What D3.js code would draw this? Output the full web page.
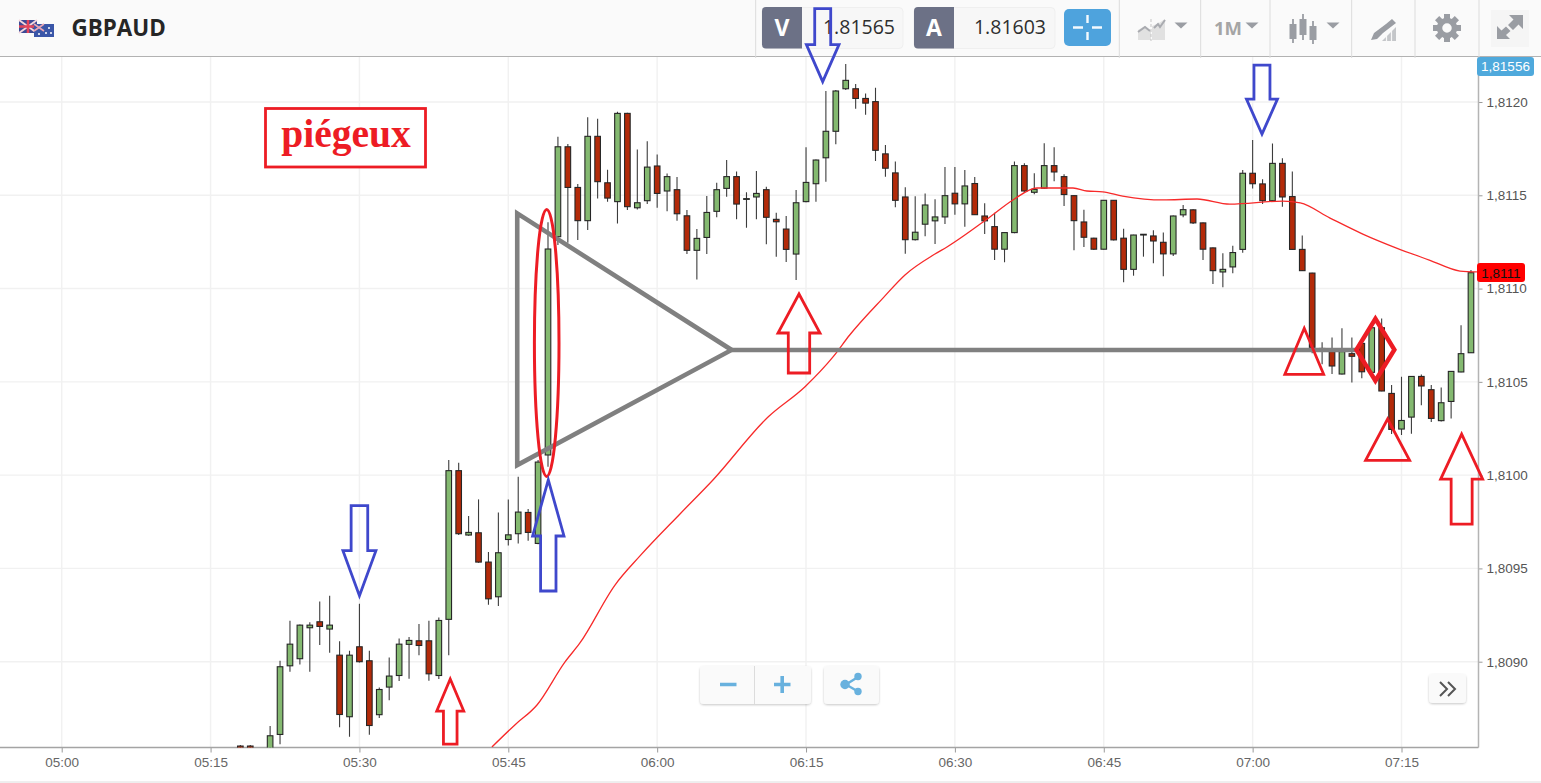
<!DOCTYPE html>
<html><head><meta charset="utf-8">
<script src="https://cdnjs.cloudflare.com/ajax/libs/d3/7.8.5/d3.min.js"></script>
<style>html,body{margin:0;padding:0;background:#fff;overflow:hidden}svg{display:block}</style>
</head><body><svg id="c" width="1541" height="783"></svg>
<script>
const symbol = "GBPAUD";
const bidPrice = "1.81565", askPrice = "1.81603";
const topLabel = "1,81556", lastLabel = "1,8111";
const annotationText = "piégeux";
const firstMinute = 18;
const xTickMinutes = [0,15,30,45,60,75,90,105,120,135];
const xTickLabels = ["05:00","05:15","05:30","05:45","06:00","06:15","06:30","06:45","07:00","07:15"];
const yTicks = [1.8090,1.8095,1.8100,1.8105,1.8110,1.8115,1.8120];

const opens = [1.808548,1.808548,1.808499,1.808499,1.808610,1.808978,1.809016,1.809182,1.809214,1.809175,1.809035,1.808705,1.809080,1.809005,1.808716,1.808864,1.808926,1.809093,1.809112,1.809112,1.808926,1.809227,1.810024,1.809679,1.809691,1.809534,1.809348,1.809655,1.809686,1.809800,1.809634,1.810108,1.811278,1.811760,1.811542,1.811364,1.811816,1.811567,1.811466,1.811939,1.811433,1.811471,1.811657,1.811523,1.811530,1.811390,1.811205,1.811274,1.811414,1.811537,1.811600,1.811478,1.811491,1.811530,1.811371,1.811319,1.811185,1.811466,1.811562,1.811701,1.811843,1.812071,1.812071,1.812019,1.812002,1.811722,1.811620,1.811491,1.811262,1.811345,1.811363,1.811384,1.811511,1.811454,1.811563,1.811389,1.811332,1.811211,1.811300,1.811659,1.811516,1.811538,1.811659,1.811600,1.811498,1.811357,1.811270,1.811211,1.811473,1.811270,1.811103,1.811287,1.811282,1.811248,1.811186,1.811395,1.811422,1.811352,1.811218,1.811089,1.811116,1.811210,1.811618,1.811561,1.811471,1.811671,1.811493,1.811210,1.811083,1.810667,1.810662,1.810542,1.810651,1.810706,1.810551,1.810790,1.810438,1.810247,1.810311,1.810529,1.810458,1.810292,1.810395,1.810553,1.810656];
const highs = [1.808553,1.808553,1.808510,1.808655,1.809005,1.809219,1.809200,1.809212,1.809323,1.809353,1.809110,1.809059,1.809311,1.809059,1.808862,1.809023,1.809125,1.809132,1.809202,1.809219,1.809237,1.810081,1.810066,1.809781,1.809870,1.809588,1.809800,1.809870,1.809991,1.809818,1.810081,1.811355,1.811814,1.811775,1.811560,1.811918,1.811910,1.811637,1.811948,1.811943,1.811746,1.811789,1.811719,1.811617,1.811598,1.811421,1.811319,1.811496,1.811567,1.811689,1.811628,1.811516,1.811630,1.811546,1.811407,1.811389,1.811528,1.811757,1.811692,1.812059,1.812064,1.812204,1.812096,1.812046,1.812077,1.811770,1.811681,1.811543,1.811495,1.811509,1.811479,1.811652,1.811652,1.811636,1.811598,1.811457,1.811407,1.811302,1.811681,1.811672,1.811618,1.811779,1.811757,1.811613,1.811500,1.811422,1.811273,1.811475,1.811475,1.811320,1.811289,1.811291,1.811312,1.811300,1.811391,1.811448,1.811425,1.811354,1.811220,1.811189,1.811229,1.811636,1.811796,1.811586,1.811777,1.811698,1.811628,1.811285,1.811085,1.810712,1.810738,1.810787,1.810738,1.810715,1.810796,1.810840,1.810483,1.810528,1.810531,1.810540,1.810483,1.810470,1.810558,1.810803,1.811099];
const lows = [1.808508,1.808508,1.808430,1.808472,1.808558,1.808946,1.808985,1.808946,1.809089,1.809048,1.808648,1.808598,1.808996,1.808608,1.808698,1.808794,1.808896,1.808909,1.809035,1.808898,1.808907,1.809035,1.809679,1.809675,1.809530,1.809305,1.809298,1.809623,1.809634,1.809648,1.809630,1.810045,1.811233,1.811246,1.811260,1.811314,1.811483,1.811466,1.811349,1.811421,1.811424,1.811453,1.811433,1.811415,1.811364,1.811185,1.811049,1.811185,1.811382,1.811492,1.811371,1.811326,1.811371,1.811237,1.811171,1.811142,1.811046,1.811462,1.811466,1.811573,1.811773,1.812064,1.811964,1.811932,1.811684,1.811600,1.811436,1.811187,1.811257,1.811280,1.811239,1.811346,1.811396,1.811332,1.811395,1.811293,1.811153,1.811141,1.811296,1.811514,1.811506,1.811534,1.811575,1.811443,1.811205,1.811223,1.811207,1.811209,1.811257,1.811034,1.811069,1.811171,1.811136,1.811066,1.811175,1.811382,1.811346,1.811153,1.811025,1.811007,1.811082,1.811192,1.811537,1.811453,1.811469,1.811439,1.811208,1.811094,1.810653,1.810594,1.810542,1.810540,1.810497,1.810519,1.810545,1.810449,1.810220,1.810215,1.810222,1.810374,1.810285,1.810288,1.810304,1.810551,1.810654];
const closes = [1.808526,1.808526,1.808446,1.808603,1.808973,1.809094,1.809196,1.809196,1.809189,1.809196,1.808717,1.809035,1.809000,1.808658,1.808851,1.808923,1.809094,1.809114,1.809087,1.808935,1.809221,1.810024,1.809686,1.809693,1.809534,1.809337,1.809584,1.809680,1.809802,1.809693,1.810070,1.811212,1.811760,1.811542,1.811364,1.811816,1.811573,1.811485,1.811939,1.811439,1.811460,1.811651,1.811510,1.811600,1.811401,1.811205,1.811269,1.811408,1.811530,1.811600,1.811453,1.811482,1.811510,1.811382,1.811358,1.811210,1.811460,1.811569,1.811689,1.811843,1.812059,1.812116,1.812019,1.811994,1.811741,1.811645,1.811473,1.811262,1.811302,1.811448,1.811384,1.811498,1.811454,1.811550,1.811396,1.811363,1.811211,1.811300,1.811659,1.811523,1.811532,1.811659,1.811625,1.811504,1.811364,1.811275,1.811211,1.811473,1.811261,1.811103,1.811287,1.811291,1.811255,1.811186,1.811389,1.811423,1.811352,1.811211,1.811096,1.811103,1.811193,1.811618,1.811562,1.811471,1.811671,1.811491,1.811210,1.811096,1.810685,1.810679,1.810585,1.810662,1.810637,1.810554,1.810790,1.810451,1.810245,1.810293,1.810529,1.810478,1.810304,1.810388,1.810556,1.810651,1.811085];

const maMinutes = [43.35,45.66,47.89,50.7,52.2,55.75,58.27,62.3,65.62,71.2,74.9,77.74,79.4,82.75,84.97,87.99,89.2,93.53,95.85,98.27,101.9,103.3,104.9,106.9,110.96,114.4,117.7,123.05,124.8,127.8,131.1,134.5,137.8,140.9,142.6];
const maValues = [1.808543,1.808661,1.808768,1.808998,1.809099,1.809411,1.809567,1.809792,1.809974,1.810313,1.810474,1.810635,1.810751,1.810949,1.811073,1.811185,1.811223,1.811384,1.811475,1.811539,1.811539,1.811523,1.811518,1.811496,1.811475,1.811480,1.811453,1.811469,1.811459,1.811378,1.811292,1.811217,1.811153,1.811094,1.811089];

// Hand-drawn annotations, anchored in chart coordinates (minute after 05:00, price)
const arrowMinutes = [30.0,49.03,76.68,120.94,39.15,74.29,141.06];
const arrowPrices = [1.809354,1.809974,1.812109,1.811828,1.808907,1.810971,1.810220];
const arrowKinds = ["down","up","down","down","up","up","up"];
const arrowHues = ["blue","blue","blue","blue","red","red","red"];
const arrowSizes = ["a","b","c","d","e","f","g"];
const triangleMinutes = [125.2,133.6], trianglePrices = [1.810787,1.810301];
const wedgeMinutes = [45.9,67.5,45.9], wedgePrices = [1.811403,1.810671,1.810054];
const levelEndMinute = 130.6, levelPrice = 1.810671;
const ellipseMinute = 48.87, ellipsePrice = 1.810708;
const diamondMinute = 132.37, diamondPrice = 1.810672;

const svg = d3.select("#c");
const W = 1541, H = 783, plotR = 1478.5, plotT = 57, plotB = 747.5;
const x = d3.scaleLinear().domain([0,135]).range([61.7,1401.5]);
const y = d3.scaleLinear().domain([1.8090,1.8120]).range([661.7,102]);
const redC = "#ed1c24", blueC = "#3f48cc", grayC = "#808080";
const greenFill = "#84b970", redFill = "#b32a09";

svg.append("rect").attr("width",W).attr("height",H).attr("fill","#fff");
svg.append("defs").append("clipPath").attr("id","plot").append("rect")
  .attr("x",0).attr("y",plotT).attr("width",plotR).attr("height",plotB-plotT);

// grid
const grid = svg.append("g").attr("stroke","#f1f1f1").attr("stroke-width",1.4);
grid.selectAll("line.h").data(yTicks).join("line").attr("class","h")
  .attr("x1",0).attr("x2",plotR).attr("y1",d=>y(d)).attr("y2",d=>y(d));
grid.selectAll("line.v").data(xTickMinutes).join("line").attr("class","v")
  .attr("x1",d=>x(d)).attr("x2",d=>x(d)).attr("y1",plotT).attr("y2",plotB);

// axes
const axY = d3.axisRight(y).tickValues(yTicks).tickSize(4).tickPadding(4).tickFormat(d=>d.toFixed(4).replace(".",","));
const gy = svg.append("g").attr("transform",`translate(${plotR},0)`).call(axY);
const axX = d3.axisBottom(x).tickValues(xTickMinutes).tickSize(5).tickPadding(5).tickFormat((d,i)=>xTickLabels[i]);
const gx = svg.append("g").attr("transform",`translate(0,${plotB})`).call(axX);
[gx,gy].forEach(g=>{
  g.select(".domain").remove();
  g.selectAll("line").attr("stroke","#9a9a9a");
  g.selectAll("text").attr("font-family","'Liberation Sans',Arial,sans-serif").attr("font-size",13.5).attr("fill","#666");
});
gy.selectAll("text").attr("fill","#555");
svg.append("line").attr("x1",plotR).attr("x2",plotR).attr("y1",plotT).attr("y2",plotB).attr("stroke","#b4b4b4").attr("stroke-width",1.5);
svg.append("line").attr("x1",0).attr("x2",plotR).attr("y1",plotB).attr("y2",plotB).attr("stroke","#a4a4a4").attr("stroke-width",1.3);
svg.append("line").attr("x1",0).attr("x2",W).attr("y1",782).attr("y2",782).attr("stroke","#dedede");

// candles
const idx = d3.range(opens.length);
const plot = svg.append("g").attr("clip-path","url(#plot)");
plot.selectAll("line.w").data(idx).join("line").attr("class","w")
  .attr("x1",i=>x(firstMinute+i)).attr("x2",i=>x(firstMinute+i))
  .attr("y1",i=>y(highs[i])).attr("y2",i=>y(lows[i]))
  .attr("stroke","#3c3c3c").attr("stroke-width",1.1);
plot.selectAll("rect.b").data(idx).join("rect").attr("class","b")
  .attr("x",i=>x(firstMinute+i)-2.8).attr("width",5.6)
  .attr("y",i=>y(Math.max(opens[i],closes[i])))
  .attr("height",i=>Math.abs(y(opens[i])-y(closes[i])))
  .attr("fill",i=>closes[i]>=opens[i]?greenFill:redFill)
  .attr("stroke","#262626").attr("stroke-width",1.1);

// moving average
const ma = d3.line().x(d=>x(d[0])).y(d=>y(d[1])).curve(d3.curveMonotoneX);
plot.append("path").attr("d",ma(maMinutes.map((m,i)=>[m,maValues[i]])))
  .attr("fill","none").attr("stroke","#f72a2a").attr("stroke-width",1.3);

// price flags
const uiFont = "'Liberation Sans',Arial,sans-serif";
svg.append("rect").attr("x",1477).attr("y",263).attr("width",48).attr("height",19).attr("rx",3).attr("fill","#ff0000");
svg.append("text").attr("x",1501).attr("y",277.5).attr("text-anchor","middle").attr("font-family",uiFont).attr("font-size",13.5).attr("fill","#111").text(lastLabel);

// header
const head = svg.append("g");
head.insert("rect").attr("width",W).attr("height",56).attr("fill","#fafafa");
head.append("line").attr("x1",0).attr("x2",W).attr("y1",56.5).attr("y2",56.5).attr("stroke","#b2b2b2").attr("stroke-width",1.2);
[755.7,1119.3,1200.7,1270,1351.7,1415,1479].forEach(sx=>{
  head.append("line").attr("x1",sx).attr("x2",sx).attr("y1",0).attr("y2",58).attr("stroke","#dcdcdc");
});
// flags
head.append("rect").attr("x",19).attr("y",20).attr("width",18).attr("height",13).attr("fill","#3c4a96");
head.append("path").attr("d","M19 20L37 33M37 20L19 33").attr("stroke","#f4d6dc").attr("stroke-width",2);
head.append("path").attr("d","M28 20V33M19 26.5H37").attr("stroke","#e4455a").attr("stroke-width",2.5);
head.append("rect").attr("x",34).attr("y",24).attr("width",20).attr("height",13).attr("fill","#3a56a8");
head.append("path").attr("d","M34 24L44 31M44 24L34 31").attr("stroke","#e9a6b4").attr("stroke-width",1.6);
[[49,28],[46,33],[51,33],[39,34]].forEach(p=>head.append("circle").attr("cx",p[0]).attr("cy",p[1]).attr("r",1).attr("fill","#fff"));
head.append("text").attr("x",71.5).attr("y",35.5).attr("font-family","'Open Sans',sans-serif").attr("font-weight",700).attr("font-size",22.4).attr("fill","#262626").text(symbol);

function priceBox(bx,letter,val,valR,wid){
  head.append("rect").attr("x",bx).attr("y",7.5).attr("width",wid).attr("height",41).attr("rx",4).attr("fill","#f7f7f7").attr("stroke","#efefef");
  head.append("path").attr("d",`M${bx+4} 7H${bx+40}V48.5H${bx+4}Q${bx} 48.5 ${bx} 44.5V11Q${bx} 7 ${bx+4} 7Z`).attr("fill","#6c7186");
  head.append("text").attr("x",bx+20).attr("y",36).attr("text-anchor","middle").attr("font-family","'Open Sans',sans-serif").attr("font-weight",700).attr("font-size",23).attr("fill","#fff").text(letter);
  head.append("text").attr("x",valR).attr("y",34).attr("text-anchor","end").attr("font-family","'Open Sans',sans-serif").attr("font-size",19.5).attr("fill","#2e2e2e").text(val);
}
priceBox(762,"V",bidPrice,895,141);
priceBox(914,"A",askPrice,1046,141);
head.append("rect").attr("x",1064).attr("y",9).attr("width",47).attr("height",37).attr("rx",5).attr("fill","#4ea3dd");
head.append("path").attr("d","M1073 27.5H1083M1092 27.5H1102M1087.5 15V23M1087.5 32V40").attr("stroke","#f4fafe").attr("stroke-width",2.4);

const iconC = "#9a9da3";
head.append("path").attr("d","M1138 40V30L1145 26L1151 31V40Z").attr("fill","#e1e1e1");
head.append("path").attr("d","M1152 40V26L1159 23L1165 19V40Z").attr("fill","#e1e1e1");
head.append("path").attr("d","M1138 32L1145 27L1150 31M1154 28L1158 24L1160 27L1165 20").attr("fill","none").attr("stroke","#a9abb0").attr("stroke-width",2);
head.append("path").attr("d","M1151 19V41").attr("stroke","#c5c5c5").attr("stroke-width",1).attr("stroke-dasharray","3 2");
[1181,1252,1333].forEach(cx=>head.append("path").attr("d",`M${cx-6.5} 22.5H${cx+6.5}L${cx} 28.5Z`).attr("fill",iconC));
head.append("text").attr("x",1214).attr("y",35).attr("font-family","'Open Sans',sans-serif").attr("font-weight",700).attr("font-size",18.5).attr("fill","#a5a5a5").text("1M");
[[1293,19,43,24,39],[1303,14,40,19,35],[1313,21,44,26,40]].forEach(c=>{
  head.append("line").attr("x1",c[0]).attr("x2",c[0]).attr("y1",c[1]).attr("y2",c[2]).attr("stroke",iconC).attr("stroke-width",1.8);
  head.append("rect").attr("x",c[0]-3.5).attr("y",c[3]).attr("width",7).attr("height",c[4]-c[3]).attr("fill",iconC);
});
// highlighter icon
head.append("path").attr("d","M1371 40L1374 33L1386 24L1392 19L1396 23L1383 33L1377 39Z").attr("fill",iconC);
head.append("path").attr("d","M1382 41L1396 27V41Z").attr("fill","#c4c6c9");
head.append("path").attr("d","M1386.5 41V36M1391.5 41V31").attr("stroke","#f7f7f7").attr("stroke-width",1.2);
// gear
const gear = head.append("g").attr("transform","translate(1447,28)");
d3.range(8).forEach(k=>gear.append("rect").attr("x",-3).attr("y",-14).attr("width",6).attr("height",6).attr("fill",iconC).attr("transform",`rotate(${k*45})`));
gear.append("circle").attr("r",7.5).attr("fill","none").attr("stroke",iconC).attr("stroke-width",5.5);
// expand
head.append("rect").attr("x",1491).attr("y",10).attr("width",38).attr("height",37).attr("fill","#f5f5f5");
head.append("path").attr("d","M1509 15H1523V29L1518.5 24.5L1513 30L1508 25L1513.5 19.5Z").attr("fill",iconC);
head.append("path").attr("d","M1497 39V26L1501.5 30.5L1506 26.5L1510.5 31L1506 35L1510 39Z").attr("fill",iconC);

// top price tag (overlaps header)
svg.append("rect").attr("x",1477).attr("y",57).attr("width",57).attr("height",19).attr("rx",3).attr("fill","#4fa9dc");
svg.append("text").attr("x",1505.5).attr("y",71).attr("text-anchor","middle").attr("font-family",uiFont).attr("font-size",13.5).attr("fill","#fff").text(topLabel);

// floating buttons
const btn = svg.append("g");
const shadow = svg.select("defs").append("filter").attr("id","sh").attr("x","-10%").attr("y","-10%").attr("width","120%").attr("height","130%");
shadow.append("feDropShadow").attr("dx",0).attr("dy",1).attr("stdDeviation",1).attr("flood-color","#000").attr("flood-opacity",0.22);
[[700,666,111,38],[824,666,55,38],[1429,674,37,29]].forEach(b=>btn.append("rect").attr("x",b[0]).attr("y",b[1]).attr("width",b[2]).attr("height",b[3]).attr("rx",4).attr("fill","#fafafa").attr("filter","url(#sh)"));
btn.append("line").attr("x1",754.5).attr("x2",754.5).attr("y1",666).attr("y2",704).attr("stroke","#dcdcdc");
const blueUI = "#68b1de";
btn.append("path").attr("d","M720 684.5H736.5M774 684.5H790.5M782.2 676V693").attr("stroke",blueUI).attr("stroke-width",3.6);
btn.append("path").attr("d","M858 677L846 684.5L858 691.5").attr("fill","none").attr("stroke",blueUI).attr("stroke-width",2.4);
[[858,676.5,3.7],[845,684.5,4.7],[858,691.5,3.7]].forEach(c=>btn.append("circle").attr("cx",c[0]).attr("cy",c[1]).attr("r",c[2]).attr("fill",blueUI));
btn.append("path").attr("d","M1440 682L1447 689L1440 696M1448 682L1455 689L1448 696").attr("fill","none").attr("stroke","#555").attr("stroke-width",2);

// annotations (on top of everything, including the header)
const ann = svg.append("g");
ann.append("path")
  .attr("d",d3.line()(wedgeMinutes.map((m,i)=>[x(m),y(wedgePrices[i])]))+"Z")
  .attr("fill","none").attr("stroke",grayC).attr("stroke-width",4.6);
ann.append("line").attr("x1",x(wedgeMinutes[1])).attr("x2",x(levelEndMinute))
  .attr("y1",y(levelPrice)).attr("y2",y(levelPrice)).attr("stroke",grayC).attr("stroke-width",4.6);
ann.append("ellipse").attr("cx",x(ellipseMinute)).attr("cy",y(ellipsePrice)).attr("rx",12.3).attr("ry",133.5)
  .attr("fill","none").attr("stroke",redC).attr("stroke-width",3);

const arrowShape = {
  a:{head:45,total:90,hw:16.5,sw:8.3}, b:{head:56,total:111,hw:15.7,sw:7.7}, c:{head:37,total:73,hw:16.3,sw:8},
  d:{head:35,total:69,hw:15.5,sw:8}, e:{head:32,total:65,hw:13.5,sw:6.8}, f:{head:39,total:79,hw:21,sw:10.7}, g:{head:45,total:90,hw:21,sw:10.5}
};
arrowMinutes.forEach((m,i)=>{
  const s = arrowShape[arrowSizes[i]], tx = x(m), ty = y(arrowPrices[i]), d = arrowKinds[i]==="down"?-1:1;
  const pts = [[tx,ty],[tx+s.hw,ty+d*s.head],[tx+s.sw,ty+d*s.head],[tx+s.sw,ty+d*s.total],[tx-s.sw,ty+d*s.total],[tx-s.sw,ty+d*s.head],[tx-s.hw,ty+d*s.head]];
  ann.append("path").attr("d",d3.line()(pts)+"Z").attr("fill","none")
    .attr("stroke",arrowHues[i]==="blue"?blueC:redC).attr("stroke-width",2.8);
});
const triSize = [{h:46,w:19.4},{h:41.3,w:22}];
triangleMinutes.forEach((m,i)=>{
  const tx=x(m), ty=y(trianglePrices[i]), s=triSize[i];
  ann.append("path").attr("d",d3.line()([[tx,ty],[tx+s.w,ty+s.h],[tx-s.w,ty+s.h]])+"Z").attr("fill","none").attr("stroke",redC).attr("stroke-width",2.8);
});
{
  const cx=x(diamondMinute), cy=y(diamondPrice);
  ann.append("path").attr("d",d3.line()([[cx,cy-31],[cx+19,cy],[cx,cy+31],[cx-19,cy]])+"Z").attr("fill","none").attr("stroke",redC).attr("stroke-width",4.4);
}
ann.append("rect").attr("x",265.5).attr("y",108.5).attr("width",160).attr("height",58.5).attr("fill","#fff").attr("stroke",redC).attr("stroke-width",2.8);
ann.append("text").attr("x",346).attr("y",147).attr("text-anchor","middle").attr("font-family","'Liberation Serif','Times New Roman',serif")
  .attr("font-weight","bold").attr("font-size",39.5).attr("fill",redC).text(annotationText);
</script></body></html>
